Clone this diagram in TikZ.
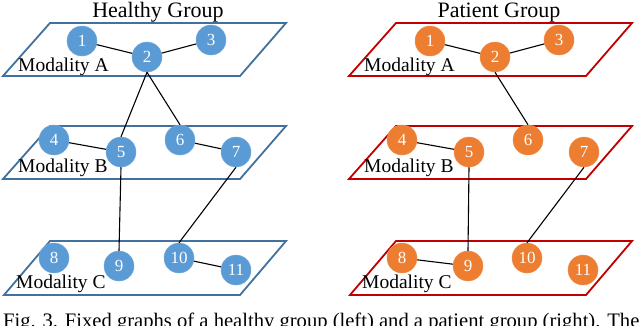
\documentclass[tikz,border=0pt]{standalone}
\usepackage{fontspec}
\setmainfont{Liberation Serif}
\definecolor{nblue}{HTML}{5B9BD5}
\definecolor{pblue}{HTML}{41719C}
\definecolor{norange}{HTML}{ED7D31}
\definecolor{pred}{HTML}{C00000}
\begin{document}
\begin{tikzpicture}[x=1pt,y=-1pt,
  hnode/.style={circle,fill=nblue,draw=nblue!85!white,line width=0.5pt,minimum size=30pt,inner sep=0pt,text=white,font=\fontsize{17}{17}\selectfont},
  pnode/.style={circle,fill=norange,draw=norange!85!white,line width=0.5pt,minimum size=30pt,inner sep=0pt,text=white,font=\fontsize{17}{17}\selectfont},
  hplane/.style={draw=pblue,line width=1.8pt,line join=miter},
  pplane/.style={draw=pred,line width=1.8pt,line join=miter},
  link/.style={draw=black,line width=1.1pt},
  modlabel/.style={anchor=base west,inner sep=0pt,font=\fontsize{19.5}{20}\selectfont},
  title/.style={anchor=base,inner sep=0pt,font=\fontsize{22}{22}\selectfont}]
\useasboundingbox (0,0) rectangle (640,325);
% titles
\node[title] (th) at (158,17) {Healthy Group};
\node[title] (tp) at (499,17) {Patient Group};
% planes left
\draw[hplane] (3,76) -- (240,76) -- (286,23) -- (50,23) -- cycle;
\draw[hplane] (3,179) -- (240,179) -- (286,126) -- (50,126) -- cycle;
\draw[hplane] (4,295) -- (240,295) -- (286,241) -- (50,241) -- cycle;
% planes right
\draw[pplane] (349,76) -- (586,76) -- (632,23) -- (396,23) -- cycle;
\draw[pplane] (349,179) -- (586,179) -- (632,126) -- (396,126) -- cycle;
\draw[pplane] (350,295) -- (586,295) -- (632,241) -- (396,241) -- cycle;
% modality labels
\node[modlabel] (lA) at (18,71) {Modality A};
\node[modlabel] (lB) at (18,172) {Modality B};
\node[modlabel] (lC) at (16,288) {Modality C};
\node[modlabel] (rA) at (364,71) {Modality A};
\node[modlabel] (rB) at (364,172) {Modality B};
\node[modlabel] (rC) at (362,288) {Modality C};
% healthy nodes
\node[hnode] (h1) at (82,41) {1};
\node[hnode] (h2) at (147,57) {2};
\node[hnode] (h3) at (211,40) {3};
\node[hnode] (h4) at (54,140) {4};
\node[hnode] (h5) at (121,152) {5};
\node[hnode] (h6) at (180,140) {6};
\node[hnode] (h7) at (236,152) {7};
\node[hnode] (h8) at (54,258) {8};
\node[hnode] (h9) at (119,266) {9};
\node[hnode] (h10) at (179,258) {10};
\node[hnode] (h11) at (236,270) {11};
% patient nodes
\node[pnode] (p1) at (430,41) {1};
\node[pnode] (p2) at (495,57) {2};
\node[pnode] (p3) at (559,40) {3};
\node[pnode] (p4) at (402,140) {4};
\node[pnode] (p5) at (469,152) {5};
\node[pnode] (p6) at (528,140) {6};
\node[pnode] (p7) at (584,152) {7};
\node[pnode] (p8) at (402,258) {8};
\node[pnode] (p9) at (468,266) {9};
\node[pnode] (p10) at (527,258) {10};
\node[pnode] (p11) at (583,270) {11};
% edges healthy
\draw[link] (h1) -- (h2);
\draw[link] (h2) -- (h3);
\draw[link] (h2.south) -- (h5.north);
\draw[link] (h2.south) -- (h6.north);
\draw[link] (h4) -- (h5);
\draw[link] (h6) -- (h7);
\draw[link] (h5.south) -- (h9.north);
\draw[link] (h7.south) -- (h10.north);
\draw[link] (h10) -- (h11);
% edges patient
\draw[link] (p1) -- (p2);
\draw[link] (p2) -- (p3);
\draw[link] (p2.south) -- (p6.north);
\draw[link] (p4) -- (p5);
\draw[link] (p5.south) -- (p9.north);
\draw[link] (p7.south) -- (p10.north);
\draw[link] (p8) -- (p9);
% caption (cut off at the bottom, as in the reference)
\node[anchor=base west,inner sep=0pt,font=\fontsize{20.6}{21}\selectfont] (cap) at (3,327) {Fig. 3. Fixed graphs of a healthy group (left) and a patient group (right). The};
\end{tikzpicture}
\end{document}
